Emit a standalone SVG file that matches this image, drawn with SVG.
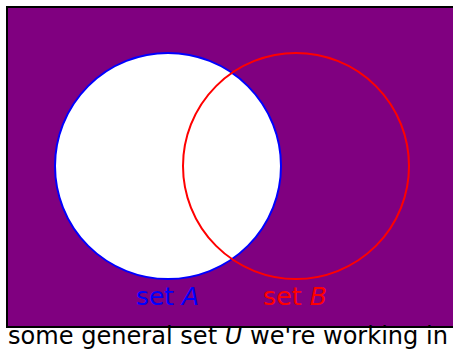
<svg xmlns="http://www.w3.org/2000/svg" width="453" height="356" viewBox="0 0 453 356">
<style>
.lbl{font-family:"DejaVu Sans","Liberation Sans",sans-serif;font-size:24px}
.it{font-style:italic}
</style>
<rect width="453" height="356" fill="#ffffff"/>
<g id="universe">
<rect x="7" y="7" width="450" height="320" fill="#800080" stroke="#000000" stroke-width="2"/>
</g>
<g id="setA">
<circle cx="168" cy="166" r="113" fill="#ffffff" stroke="#0000ff" stroke-width="2"/>
</g>
<g id="setB">
<circle cx="296" cy="166" r="113" fill="none" stroke="#ff0000" stroke-width="2"/>
</g>
<g id="labels">
<text class="lbl" x="136" y="305" fill="#0000ff" textLength="63" lengthAdjust="spacingAndGlyphs">set <tspan class="it">A</tspan></text>
<text class="lbl" x="263" y="305" fill="#ff0000" textLength="64" lengthAdjust="spacingAndGlyphs">set <tspan class="it">B</tspan></text>
<text class="lbl" x="8" y="344" fill="#000000" textLength="440" lengthAdjust="spacingAndGlyphs">some general set <tspan class="it">U</tspan> we're working in</text>
</g>
</svg>
